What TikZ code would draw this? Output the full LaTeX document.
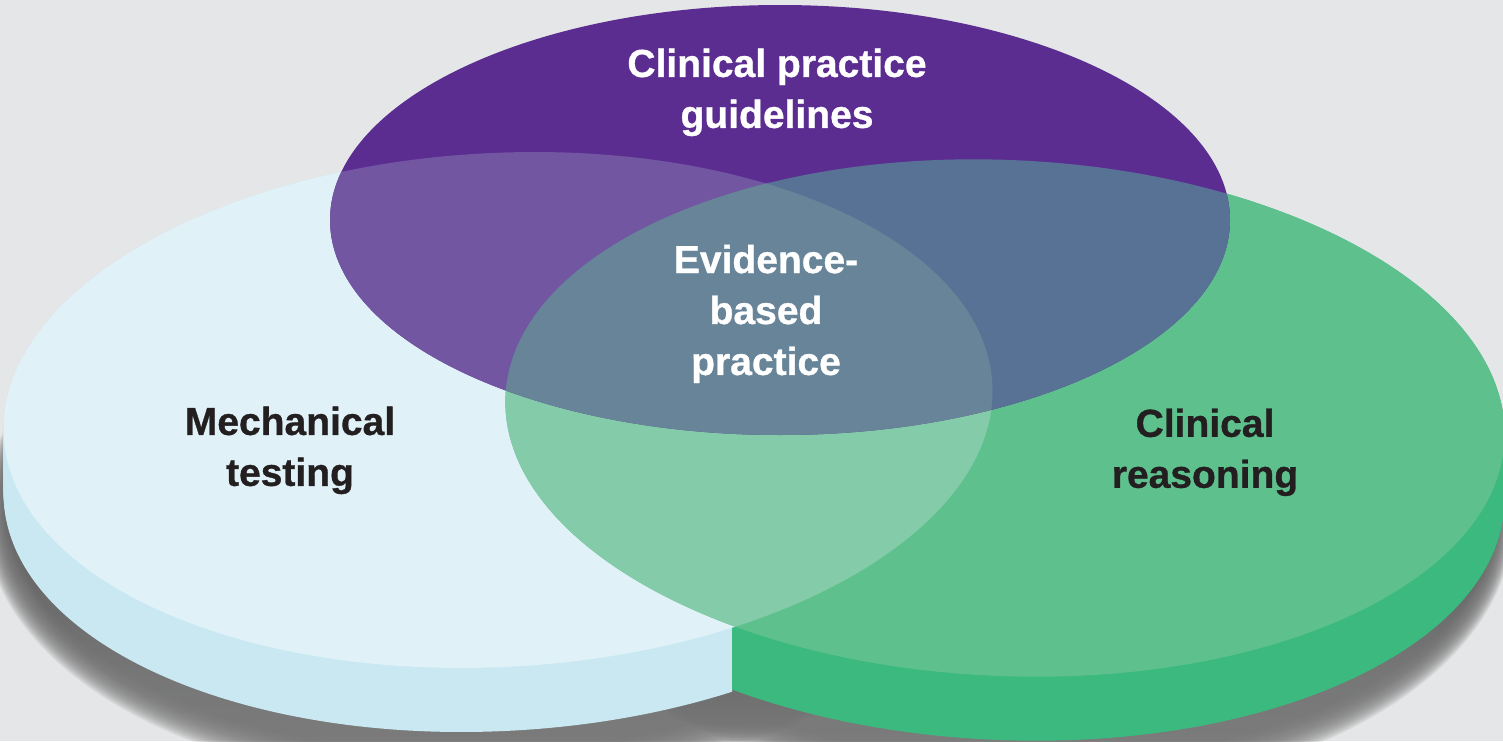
\documentclass[tikz,border=0pt]{standalone}
\usepackage{fontspec}
\setmainfont{Liberation Sans}[BoldFeatures={FakeBold=0.8}]
\definecolor{bg}{HTML}{E5E6E7}
\definecolor{bluetop}{HTML}{E0F1F8}
\definecolor{blueside}{HTML}{C9E8F2}
\definecolor{greentop}{HTML}{5EC18D}
\definecolor{greenside}{HTML}{3CB97F}
\definecolor{purp}{HTML}{5C2D91}
\definecolor{pb}{HTML}{7256A2}
\definecolor{pg}{HTML}{587296}
\definecolor{gb}{HTML}{84CBA9}
\definecolor{pgb}{HTML}{688498}
\definecolor{ink}{HTML}{231F20}
\definecolor{shade}{HTML}{2A3838}
\def\BlueP{(4.98,3.31) ellipse [x radius=4.95, y radius=2.57]}
\def\GreenP{(10.05,3.23) ellipse [x radius=5.0, y radius=2.58]}
\def\PurpP{(7.80,5.21) ellipse [x radius=4.50, y radius=2.15]}
\tikzset{
  blueE/.style={rotate around={3:(4.98,3.31)}},
  greenE/.style={rotate around={-2.5:(10.05,3.23)}},
  lbl/.style={align=center, font=\fontsize{11.1}{14.5}\selectfont\bfseries, inner sep=0pt},
}
\begin{document}
\begin{tikzpicture}
\useasboundingbox (0,0) rectangle (15.03,7.41);
\fill[bg] (0,0) rectangle (15.03,7.41);
% soft shadows on the ground
\begin{scope}
  \clip (0,0) rectangle (15.03,7.41);
  \foreach \r in {0,0.025,...,0.6} {
    \begin{scope}[yshift=-0.85cm]
      \fill[shade, opacity=0.055, blueE] (4.98,3.31) ellipse [x radius={4.85+0.5*\r}, y radius={2.57+0.6*\r}];
      \fill[shade, opacity=0.055, greenE] (10.05,3.23) ellipse [x radius={4.85+0.4*\r}, y radius={2.58+0.6*\r}];
    \end{scope}
  }
\end{scope}
% side faces
\begin{scope}
  \clip (-1,-1) rectangle (7.32,9);
  \foreach \s in {0,0.02,...,0.66} {
    \begin{scope}[yshift=-\s cm]
      \fill[blueside, blueE] \BlueP;
    \end{scope}
  }
\end{scope}
\begin{scope}
  \clip (7.32,-1) rectangle (16,9);
  \foreach \s in {0,0.02,...,0.66} {
    \begin{scope}[yshift=-\s cm]
      \fill[greenside, greenE] \GreenP;
    \end{scope}
  }
\end{scope}
% top faces
\fill[bluetop, blueE] \BlueP;
\fill[greentop, greenE] \GreenP;
\fill[purp] \PurpP;
\begin{scope}
  \clip[blueE] \BlueP;
  \fill[gb, greenE] \GreenP;
\end{scope}
\begin{scope}
  \clip \PurpP;
  \fill[pb, blueE] \BlueP;
  \fill[pg, greenE] \GreenP;
  \clip[blueE] \BlueP;
  \fill[pgb, greenE] \GreenP;
\end{scope}
% labels
\node[lbl, text=white] (cpg) at (7.77,6.486) {Clinical practice\\guidelines};
\node[lbl, text=white] (ebp) at (7.66,4.271) {Evidence-\\based\\practice};
\node[lbl, text=ink] (mt) at (2.90,2.906) {Mechanical\\testing};
\node[lbl, text=ink] (cr) at (12.05,2.887) {Clinical\\reasoning};
\end{tikzpicture}
\end{document}
